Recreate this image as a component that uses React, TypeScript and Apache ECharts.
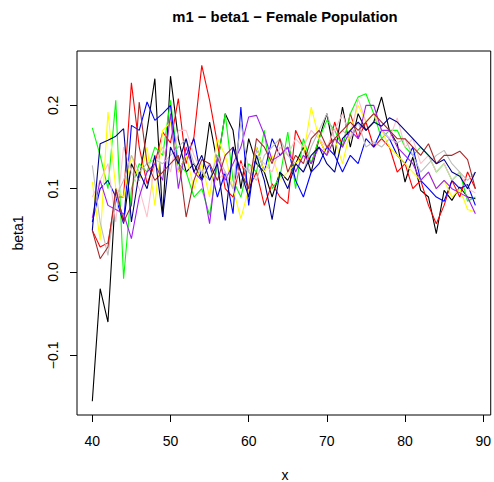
import React, { useEffect, useRef } from "react";
import * as echarts from "echarts";

const ages: number[] = [];
for (let a = 40; a <= 89; a++) ages.push(a);

const xTicks = [40, 50, 60, 70, 80, 90];
const yTicks = [-0.1, 0.0, 0.1, 0.2];

const blackVals = [-0.155, -0.02, -0.06, 0.10, 0.06, 0.13, 0.11, 0.17, 0.232, 0.066, 0.235, 0.16, 0.12, 0.13, 0.11, 0.18, 0.13, 0.19, 0.17, 0.10, 0.16, 0.13, 0.12, 0.09, 0.12, 0.11, 0.13, 0.15, 0.12, 0.16, 0.19, 0.14, 0.198, 0.15, 0.19, 0.17, 0.18, 0.21, 0.17, 0.154, 0.108, 0.138, 0.098, 0.09, 0.046, 0.098, 0.086, 0.102, 0.09, 0.088];
const redVals = [0.05, 0.03, 0.035, 0.09, 0.09, 0.227, 0.15, 0.106, 0.13, 0.168, 0.155, 0.208, 0.13, 0.162, 0.248, 0.206, 0.154, 0.10, 0.09, 0.134, 0.10, 0.12, 0.08, 0.106, 0.09, 0.082, 0.17, 0.15, 0.13, 0.16, 0.14, 0.18, 0.15, 0.19, 0.16, 0.18, 0.15, 0.16, 0.15, 0.12, 0.13, 0.10, 0.11, 0.08, 0.058, 0.08, 0.11, 0.09, 0.12, 0.10];
const greenVals = [0.173, 0.14, 0.10, 0.206, -0.008, 0.10, 0.13, 0.12, 0.15, 0.14, 0.206, 0.13, 0.12, 0.09, 0.10, 0.068, 0.13, 0.19, 0.11, 0.09, 0.13, 0.12, 0.17, 0.10, 0.114, 0.168, 0.10, 0.16, 0.13, 0.16, 0.182, 0.17, 0.15, 0.19, 0.21, 0.214, 0.19, 0.16, 0.17, 0.17, 0.15, 0.14, 0.15, 0.14, 0.12, 0.13, 0.11, 0.12, 0.085, 0.09];
const blueVals = [0.06, 0.10, 0.11, 0.09, 0.058, 0.176, 0.17, 0.204, 0.182, 0.19, 0.20, 0.12, 0.14, 0.16, 0.11, 0.13, 0.09, 0.12, 0.07, 0.198, 0.08, 0.15, 0.12, 0.16, 0.14, 0.15, 0.11, 0.09, 0.12, 0.13, 0.15, 0.14, 0.12, 0.14, 0.13, 0.16, 0.15, 0.17, 0.16, 0.14, 0.13, 0.15, 0.11, 0.10, 0.09, 0.085, 0.11, 0.10, 0.105, 0.08];
const yellowVals = [0.108, 0.038, 0.192, 0.10, 0.09, 0.14, 0.11, 0.15, 0.08, 0.17, 0.18, 0.12, 0.14, 0.10, 0.13, 0.09, 0.16, 0.14, 0.10, 0.064, 0.10, 0.15, 0.12, 0.14, 0.11, 0.12, 0.13, 0.14, 0.198, 0.16, 0.14, 0.16, 0.13, 0.17, 0.20, 0.18, 0.19, 0.17, 0.15, 0.14, 0.13, 0.12, 0.11, 0.12, 0.10, 0.11, 0.09, 0.10, 0.075, 0.072];
const pinkVals = [0.09, 0.11, 0.13, 0.06, 0.15, 0.12, 0.10, 0.066, 0.13, 0.15, 0.12, 0.17, 0.17, 0.14, 0.12, 0.13, 0.11, 0.12, 0.10, 0.13, 0.12, 0.14, 0.13, 0.12, 0.15, 0.14, 0.16, 0.15, 0.17, 0.16, 0.15, 0.17, 0.19, 0.16, 0.208, 0.18, 0.19, 0.17, 0.16, 0.185, 0.15, 0.16, 0.13, 0.14, 0.12, 0.13, 0.11, 0.12, 0.10, 0.095];
const purpleVals = [0.065, 0.11, 0.08, 0.075, 0.07, 0.04, 0.09, 0.12, 0.13, 0.11, 0.19, 0.10, 0.15, 0.12, 0.11, 0.058, 0.14, 0.11, 0.13, 0.15, 0.186, 0.188, 0.165, 0.134, 0.14, 0.15, 0.12, 0.14, 0.13, 0.15, 0.14, 0.16, 0.15, 0.17, 0.16, 0.20, 0.20, 0.17, 0.17, 0.15, 0.14, 0.13, 0.11, 0.12, 0.10, 0.11, 0.10, 0.095, 0.09, 0.07];
const grayVals = [0.128, 0.06, 0.02, 0.09, 0.11, 0.14, 0.12, 0.13, 0.135, 0.13, 0.14, 0.15, 0.16, 0.13, 0.12, 0.11, 0.14, 0.12, 0.10, 0.18, 0.12, 0.11, 0.14, 0.15, 0.16, 0.14, 0.13, 0.12, 0.15, 0.17, 0.19, 0.16, 0.17, 0.16, 0.18, 0.15, 0.156, 0.15, 0.16, 0.155, 0.16, 0.14, 0.12, 0.13, 0.14, 0.146, 0.13, 0.12, 0.11, 0.12];
const brownVals = [0.05, 0.016, 0.03, 0.10, 0.06, 0.08, 0.204, 0.13, 0.11, 0.12, 0.13, 0.14, 0.066, 0.11, 0.135, 0.13, 0.11, 0.14, 0.15, 0.12, 0.10, 0.16, 0.15, 0.13, 0.16, 0.12, 0.14, 0.13, 0.16, 0.17, 0.15, 0.16, 0.17, 0.18, 0.17, 0.18, 0.19, 0.18, 0.17, 0.16, 0.16, 0.15, 0.14, 0.154, 0.13, 0.14, 0.14, 0.145, 0.135, 0.10];
const navyVals = [0.05, 0.154, 0.158, 0.163, 0.172, 0.06, 0.12, 0.10, 0.14, 0.066, 0.15, 0.13, 0.16, 0.12, 0.14, 0.11, 0.13, 0.062, 0.15, 0.12, 0.09, 0.14, 0.11, 0.063, 0.12, 0.10, 0.13, 0.12, 0.14, 0.15, 0.13, 0.12, 0.16, 0.17, 0.18, 0.17, 0.18, 0.175, 0.185, 0.18, 0.17, 0.16, 0.15, 0.14, 0.13, 0.135, 0.12, 0.115, 0.10, 0.12];

const seriesList: { name: string; color: string; values: number[] }[] = [
  { name: "s1", color: "#000000", values: blackVals },
  { name: "s2", color: "#FF0000", values: redVals },
  { name: "s3", color: "#00FF00", values: greenVals },
  { name: "s4", color: "#0000FF", values: blueVals },
  { name: "s5", color: "#FFFF00", values: yellowVals },
  { name: "s6", color: "#FFC0CB", values: pinkVals },
  { name: "s7", color: "#A020F0", values: purpleVals },
  { name: "s8", color: "#BEBEBE", values: grayVals },
  { name: "s9", color: "#A52A2A", values: brownVals },
  { name: "s10", color: "#00008B", values: navyVals },
];

const FONT = "'Liberation Sans', Arial, Helvetica, sans-serif";

export default function App() {
  const ref = useRef<HTMLDivElement>(null);
  useEffect(() => {
    if (!ref.current) return;
    const chart = echarts.init(ref.current, null, { renderer: "svg" });
    chart.setOption({
      animation: false,
      backgroundColor: "#ffffff",
      grid: {
        left: 77,
        right: 1,
        top: 51,
        bottom: 67,
        show: true,
        borderColor: "#000000",
        borderWidth: 1,
        backgroundColor: "transparent",
      },
      xAxis: {
        type: "value",
        min: 38.04,
        max: 90.96,
        axisLine: { show: false, onZero: false },
        splitLine: { show: false },
        axisTick: {
          show: true,
          customValues: xTicks,
          length: 7,
          lineStyle: { color: "#000000", width: 1 },
        },
        axisLabel: {
          customValues: xTicks,
          margin: 19,
          color: "#000000",
          fontSize: 14,
          fontFamily: FONT,
          formatter: (v: number) => String(v),
        },
      },
      yAxis: {
        type: "value",
        min: -0.1715,
        max: 0.2652,
        axisLine: { show: false, onZero: false },
        splitLine: { show: false },
        axisTick: {
          show: true,
          customValues: yTicks,
          length: 7,
          lineStyle: { color: "#000000", width: 1 },
        },
        axisLabel: {
          customValues: yTicks,
          rotate: 90,
          margin: 17,
          color: "#000000",
          fontSize: 14,
          fontFamily: FONT,
          formatter: (v: number) => {
            const s = Math.abs(v).toFixed(1);
            return v < -1e-9 ? "\u2212" + s : s;
          },
        },
      },
      graphic: [
        {
          type: "text",
          x: 285,
          y: 17,
          style: {
            text: "m1 \u2212 beta1 \u2212 Female Population",
            fontFamily: FONT,
            fontWeight: "bold",
            fontSize: 14.8,
            fill: "#000000",
            textAlign: "center",
            textVerticalAlign: "middle",
          },
        },
        {
          type: "text",
          x: 285,
          y: 475,
          style: {
            text: "x",
            fontFamily: FONT,
            fontSize: 14,
            fill: "#000000",
            textAlign: "center",
            textVerticalAlign: "middle",
          },
        },
        {
          type: "text",
          x: 18,
          y: 233,
          rotation: Math.PI / 2,
          style: {
            text: "beta1",
            fontFamily: FONT,
            fontSize: 14,
            fill: "#000000",
            textAlign: "center",
            textVerticalAlign: "middle",
          },
        },
      ],
      series: seriesList.map((s) => ({
        name: s.name,
        type: "line",
        data: ages.map((a, i) => [a, s.values[i]]),
        showSymbol: false,
        symbol: "none",
        lineStyle: { color: s.color, width: 1.1 },
        itemStyle: { color: s.color },
        z: 2,
      })),
    });
    return () => chart.dispose();
  }, []);
  return <div ref={ref} style={{ width: 494, height: 482, position: "absolute", left: 0, top: 0 }} />;
}
